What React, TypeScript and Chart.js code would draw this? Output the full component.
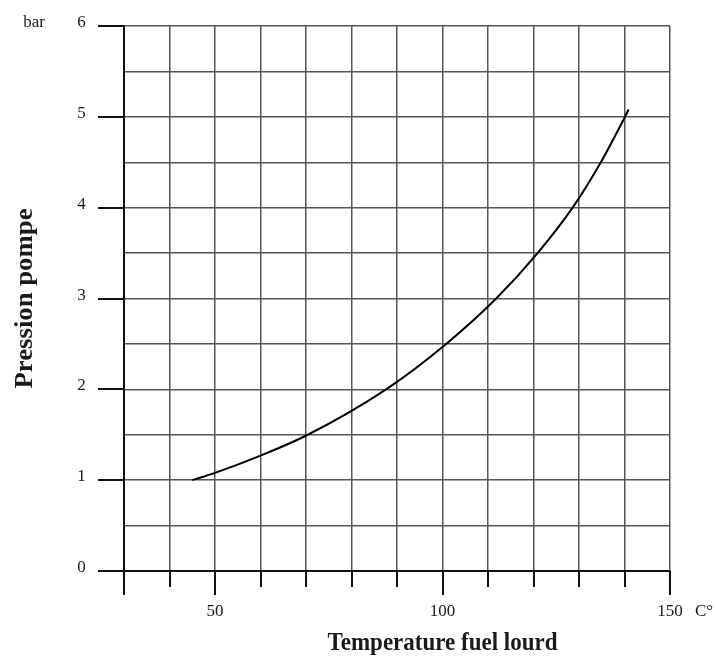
import React, { useEffect, useRef } from "react";
import { Chart, registerables } from "chart.js";

Chart.register(...registerables);

// Data (curve samples)
const temperature = [45, 50, 60, 70.4, 87.6, 100.8, 111.8, 120.9, 128.6, 134.8, 140.1, 140.9];
const pressure = [1.0, 1.08, 1.27, 1.5, 2.0, 2.5, 3.0, 3.5, 4.0, 4.5, 5.0, 5.08];

const xTickValues = [30, 40, 50, 60, 70, 80, 90, 100, 110, 120, 130, 140, 150];
const xMajorTicks = [30, 50, 100, 150];
const xTickLabels = [50, 100, 150];
const yTickLabels = [0, 1, 2, 3, 4, 5, 6];
const xUnit = "C°";
const yUnit = "bar";
const xTitle = "Temperature fuel lourd";
const yTitle = "Pression pompe";

const SERIF = '"Liberation Serif", "DejaVu Serif", serif';

const decorPlugin = {
  id: "decor",
  afterDraw(chart: any) {
    const { ctx, chartArea } = chart;
    const x = chart.scales.x;
    const y = chart.scales.y;
    ctx.save();
    ctx.strokeStyle = "#111";
    ctx.lineWidth = 2;
    ctx.lineCap = "butt";
    // left tick marks on integer values
    yTickLabels.forEach((v) => {
      const py = Math.round(y.getPixelForValue(v));
      ctx.beginPath();
      ctx.moveTo(98, py);
      ctx.lineTo(chartArea.left, py);
      ctx.stroke();
    });
    // bottom tick marks
    xTickValues.forEach((v) => {
      const px = Math.round(x.getPixelForValue(v));
      const len = xMajorTicks.includes(v) ? 24 : 16;
      ctx.beginPath();
      ctx.moveTo(px, chartArea.bottom);
      ctx.lineTo(px, chartArea.bottom + len);
      ctx.stroke();
    });

    ctx.fillStyle = "#1a1a1a";
    ctx.font = `17px ${SERIF}`;
    ctx.textBaseline = "alphabetic";
    ctx.textAlign = "center";
    yTickLabels.forEach((v) => {
      const py = Math.round(y.getPixelForValue(v));
      ctx.fillText(String(v), 81.5, py + 1);
    });
    ctx.fillText(yUnit, 34, 27);
    xTickLabels.forEach((v) => {
      const px = x.getPixelForValue(v);
      ctx.fillText(String(v), px, 616);
    });
    ctx.textAlign = "left";
    ctx.fillText(xUnit, 695, 616);

    // axis titles (fitted to the reference widths)
    ctx.font = `bold 26px ${SERIF}`;
    ctx.textAlign = "center";
    const wx = ctx.measureText(xTitle).width;
    ctx.save();
    ctx.translate(x.getPixelForValue(100), 650);
    ctx.scale(230 / wx, 1);
    ctx.fillText(xTitle, 0, 0);
    ctx.restore();

    const wy = ctx.measureText(yTitle).width;
    ctx.save();
    ctx.translate(32, (chartArea.top + chartArea.bottom) / 2);
    ctx.rotate(-Math.PI / 2);
    ctx.scale(180 / wy, 1);
    ctx.fillText(yTitle, 0, 0);
    ctx.restore();

    ctx.restore();
  },
};

export default function App() {
  const ref = useRef<HTMLCanvasElement>(null);

  useEffect(() => {
    document.body.style.margin = "0";
    const canvas = ref.current!;
    const chart = new Chart(canvas, {
      type: "line",
      data: {
        datasets: [
          {
            data: temperature.map((t, i) => ({ x: t, y: pressure[i] })),
            borderColor: "#000",
            borderWidth: 2,
            pointRadius: 0,
            fill: false,
            cubicInterpolationMode: "monotone",
          },
        ],
      },
      options: {
        responsive: false,
        animation: false,
        devicePixelRatio: 1,
        layout: { padding: { left: 124, right: 46, top: 26, bottom: 86 } },
        plugins: { legend: { display: false }, tooltip: { enabled: false } },
        scales: {
          x: {
            type: "linear",
            min: 30,
            max: 150,
            ticks: { display: false, stepSize: 10 },
            grid: { drawTicks: false, color: "#555", lineWidth: 1.5 },
            border: { display: true, color: "#111", width: 2 },
          },
          y: {
            type: "linear",
            min: 0,
            max: 6,
            ticks: { display: false, stepSize: 0.5 },
            grid: { drawTicks: false, color: "#555", lineWidth: 1.5 },
            border: { display: true, color: "#111", width: 2 },
          },
        },
      },
      plugins: [decorPlugin],
    } as any);
    return () => chart.destroy();
  }, []);

  return (
    <canvas
      ref={ref}
      width={716}
      height={657}
      style={{ display: "block", width: 716, height: 657 }}
    />
  );
}
